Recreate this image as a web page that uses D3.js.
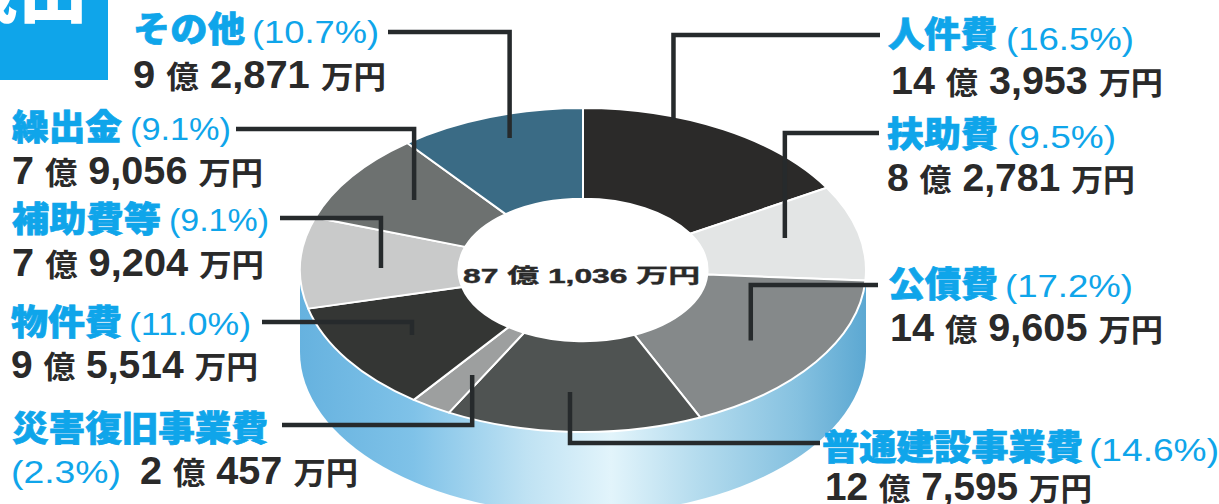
<!DOCTYPE html>
<html lang="ja">
<head>
<meta charset="utf-8">
<title>歳出</title>
<script src="https://cdn.jsdelivr.net/npm/d3@7"></script>
<style>
  html, body { margin: 0; padding: 0; background: #fff; }
  svg { display: block; }
  .name   { font-family: "Noto Sans CJK JP", sans-serif; font-weight: 900; fill: #0fa5ea; stroke: #0fa5ea; stroke-width: 0.7px; font-size: 35px; }
  .pct    { font-family: "Liberation Sans", sans-serif; font-weight: 400; fill: #0fa5ea; font-size: 32px; }
  .amount { font-family: "Liberation Sans", "Noto Sans CJK JP", sans-serif; font-weight: 700; fill: #2a2a2a; font-size: 38px; }
  .amount .kanji { font-family: "Noto Sans CJK JP", sans-serif; font-weight: 700; font-size: 31px; }
</style>
</head>
<body>
<svg id="chart" width="1219" height="504"></svg>
<script>
// 歳出の内訳（万円）
const categories = ["人件費", "扶助費", "公債費", "普通建設事業費", "災害復旧事業費", "物件費", "補助費等", "繰出金", "その他"];
const amounts    = [143953, 82781, 149605, 127595, 20457, 95514, 79204, 79056, 92871];
const shares     = ["16.5", "9.5", "17.2", "14.6", "2.3", "11.0", "9.1", "9.1", "10.7"];
const totalLabel = "87 億 1,036 万円";
const heading    = "歳出";
const sliceFills = ["#2b2a29", "#e3e5e5", "#85898a", "#4f5352", "#9d9f9f", "#343634", "#c9caca", "#6d7170", "#3a6b85"];

// 金額を「9 億 2,871 万円」の各部分に分ける
const amountParts = v => [
  [String(Math.floor(v / 10000)), false], [" ", false], ["億", true], [" ", false],
  [d3.format(",")(v % 10000), false], [" ", false], ["万円", true]
];

// 楕円に投影した円盤の寸法
const W = 1219, H = 504;
const cx = 583, cy = 270, rx = 283, ry = 162, depth = 82, holeRatio = 0.44;
const px = d3.scaleLinear().domain([-1, 1]).range([cx - rx, cx + rx]);
const py = d3.scaleLinear().domain([-1, 1]).range([cy - ry, cy + ry]);

// 見出しと引出線の配置: [名前x, 名前幅, 名前y, 率x, 率幅, 率y, 金額x, 金額幅, 金額y, 線の始点x, 線のy]
const labelLayout = [
  [888, 109,  47, 1006, 128,  50, 891, 272,  94, 880,  35],
  [887, 111, 147, 1007, 109, 148, 887, 248, 191, 879, 133],
  [888, 110, 297, 1005, 128, 297, 890, 273, 341, 878, 285],
  [822, 261, 460, 1089, 130, 461, 825, 267, 500, 820, 443],
  [ 12, 256, 441,   11, 110, 483, 140, 218, 484, 282, 425],
  [ 11, 111, 335,  129, 122, 335,  11, 247, 378, 262, 322],
  [ 12, 149, 232,  169, 100, 231,  12, 252, 276, 280, 218],
  [ 12, 110, 140,  130, 101, 140,  12, 251, 184, 236, 129],
  [133, 112,  42,  252, 127,  43, 133, 253,  88, 388,  32]
];

// 引出線の先端: スライス内の角度比と半径比
const leaderTips = [[0.32, 0.98], [0.44, 0.74], [0.526, 0.735], [0.53, 0.755], [0.34, 0.757], [0.5, 0.725], [0.45, 0.714], [0.52, 0.737], [0.54, 0.855]];

const svg = d3.select("#chart").attr("viewBox", `0 0 ${W} ${H}`);

// 側面のグラデーション
const grad = svg.append("defs").append("linearGradient")
  .attr("id", "sideFill")
  .attr("gradientUnits", "userSpaceOnUse")
  .attr("x1", px(-1)).attr("x2", px(1)).attr("y1", 0).attr("y2", 0);
[[0, "#66b2df"], [0.2, "#7fc2e8"], [0.4, "#bfe2f3"], [0.55, "#e2f4fb"], [0.7, "#b5dcee"], [0.88, "#85c1e0"], [1, "#5ca8d2"]]
  .forEach(([o, c]) => grad.append("stop").attr("offset", o).attr("stop-color", c));

// 見出しの帯
svg.append("rect").attr("width", 108).attr("height", 80).attr("fill", "#0fa5ea");
svg.append("text").attr("x", 88).attr("y", 17).attr("text-anchor", "end")
  .attr("font-family", "Noto Sans CJK JP").attr("font-weight", 900).attr("font-size", 70)
  .attr("fill", "#fff").text(heading);

// 円盤の側面
svg.append("path")
  .attr("d", `M${px(-1)},${cy}V${cy + depth}A${rx},${ry} 0 0 0 ${px(1)},${cy + depth}V${cy}Z`)
  .attr("fill", "url(#sideFill)");

// 上面のスライス
const pie = d3.pie().sort(null).value(d => d);
const arcs = pie(amounts);
const arc = d3.arc().innerRadius(rx * holeRatio).outerRadius(rx);
const disc = svg.append("g").attr("transform", `translate(${cx},${cy}) scale(1,${ry / rx})`);

disc.append("circle").attr("r", rx * holeRatio).attr("fill", "#fff");
disc.selectAll("path").data(arcs).join("path")
  .attr("d", arc)
  .attr("fill", (d, i) => sliceFills[i])
  .attr("stroke", "#fff")
  .attr("stroke-width", 2)
  .attr("stroke-linejoin", "round")
  .attr("vector-effect", "non-scaling-stroke");

// 引出線
const leader = d3.line();
svg.append("g").selectAll("path").data(arcs).join("path")
  .attr("d", (d, i) => {
    const [frac, rad] = leaderTips[i];
    const a = d.startAngle + (d.endAngle - d.startAngle) * frac;
    const tx = px(rad * Math.sin(a)), ty = py(-rad * Math.cos(a));
    const L = labelLayout[i];
    return leader([[L[9], L[10]], [tx, L[10]], [tx, ty]]);
  })
  .attr("fill", "none")
  .attr("stroke", "#262a2c")
  .attr("stroke-width", 4.5);

// 項目名・構成比・金額
const labels = svg.append("g").selectAll("g").data(categories).join("g");
const run = (cls, xi, wi, yi) => labels.append("text")
  .attr("class", cls)
  .attr("x", (d, i) => labelLayout[i][xi])
  .attr("y", (d, i) => labelLayout[i][yi])
  .attr("textLength", (d, i) => labelLayout[i][wi])
  .attr("lengthAdjust", "spacingAndGlyphs");
run("name", 0, 1, 2).text(d => d);
run("pct", 3, 4, 5).text((d, i) => `(${shares[i]}%)`);
run("amount", 6, 7, 8).each(function (d, i) {
  d3.select(this).selectAll("tspan").data(amountParts(amounts[i])).join("tspan")
    .classed("kanji", p => p[1])
    .text(p => p[0]);
});

// 中央の総額
svg.append("text")
  .attr("x", 463).attr("y", 283)
  .attr("textLength", 237).attr("lengthAdjust", "spacingAndGlyphs")
  .attr("font-family", "Liberation Sans, Noto Sans CJK JP, sans-serif")
  .attr("font-weight", 700).attr("font-size", 20).attr("fill", "#2a2a2a")
  .attr("stroke", "#2a2a2a").attr("stroke-width", 0.4)
  .text(totalLabel);
</script>
</body>
</html>
